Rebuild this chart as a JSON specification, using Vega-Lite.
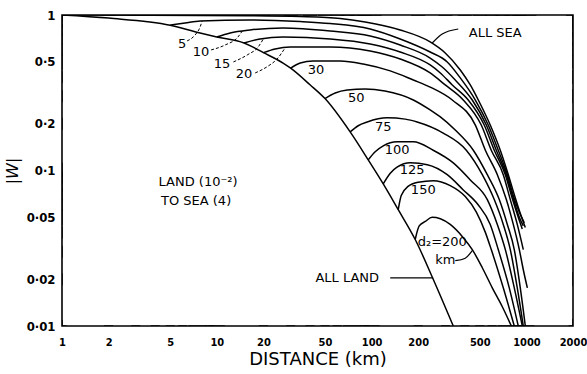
{
  "$schema": "https://vega.github.io/schema/vega-lite/v6.json",
  "width": 511,
  "height": 311,
  "autosize": {"type": "none"},
  "padding": {"left": 62, "top": 15, "right": 14, "bottom": 48},
  "background": "white",
  "config": {
    "view": {"stroke": "black", "strokeWidth": 1.6},
    "axis": {
      "domain": false, "grid": false, "ticks": false, "tickSize": 0,
      "labelColor": "black", "labelFont": "Liberation Sans Narrow, DejaVu Sans Condensed, Liberation Sans",
      "labelFontSize": 12, "labelFontWeight": "bold", "labelOverlap": false, "labelBound": false, "labelFlush": false,
      "titleColor": "black"
    },
    "text": {"color": "black", "font": "DejaVu Sans"}
  },
  "datasets": {
    "curves": [
      {"curve": "ALL SEA", "d": 1, "w": 1.0}, {"curve": "ALL SEA", "d": 3.71, "w": 0.996}, {"curve": "ALL SEA", "d": 16.4, "w": 0.99},
      {"curve": "ALL SEA", "d": 34.6, "w": 0.978}, {"curve": "ALL SEA", "d": 62.7, "w": 0.95}, {"curve": "ALL SEA", "d": 90.9, "w": 0.902},
      {"curve": "ALL SEA", "d": 153, "w": 0.801}, {"curve": "ALL SEA", "d": 239, "w": 0.671}, {"curve": "ALL SEA", "d": 299, "w": 0.57},
      {"curve": "ALL SEA", "d": 374, "w": 0.443}, {"curve": "ALL SEA", "d": 434, "w": 0.355}, {"curve": "ALL SEA", "d": 489, "w": 0.284},
      {"curve": "ALL SEA", "d": 584, "w": 0.196}, {"curve": "ALL SEA", "d": 678, "w": 0.135}, {"curve": "ALL SEA", "d": 764, "w": 0.094},
      {"curve": "ALL SEA", "d": 848, "w": 0.0666}, {"curve": "ALL SEA", "d": 913, "w": 0.053}, {"curve": "ALL SEA", "d": 984, "w": 0.043},

      {"curve": "5", "d": 5, "w": 0.86}, {"curve": "5", "d": 6.24, "w": 0.888}, {"curve": "5", "d": 7.8, "w": 0.915},
      {"curve": "5", "d": 16.4, "w": 0.929}, {"curve": "5", "d": 34.6, "w": 0.908}, {"curve": "5", "d": 54, "w": 0.882},
      {"curve": "5", "d": 97.9, "w": 0.813}, {"curve": "5", "d": 153, "w": 0.701}, {"curve": "5", "d": 239, "w": 0.578},
      {"curve": "5", "d": 308, "w": 0.499}, {"curve": "5", "d": 374, "w": 0.394}, {"curve": "5", "d": 468, "w": 0.284},
      {"curve": "5", "d": 567, "w": 0.196}, {"curve": "5", "d": 658, "w": 0.135}, {"curve": "5", "d": 753, "w": 0.094},
      {"curve": "5", "d": 835, "w": 0.066}, {"curve": "5", "d": 900, "w": 0.054}, {"curve": "5", "d": 969, "w": 0.046},

      {"curve": "10", "d": 10, "w": 0.722}, {"curve": "10", "d": 12.2, "w": 0.766}, {"curve": "10", "d": 16.4, "w": 0.801},
      {"curve": "10", "d": 26.8, "w": 0.825}, {"curve": "10", "d": 54, "w": 0.789}, {"curve": "10", "d": 97.9, "w": 0.733},
      {"curve": "10", "d": 153, "w": 0.641}, {"curve": "10", "d": 239, "w": 0.529}, {"curve": "10", "d": 286, "w": 0.463},
      {"curve": "10", "d": 347, "w": 0.382}, {"curve": "10", "d": 447, "w": 0.284}, {"curve": "10", "d": 551, "w": 0.196},
      {"curve": "10", "d": 639, "w": 0.135}, {"curve": "10", "d": 742, "w": 0.094}, {"curve": "10", "d": 823, "w": 0.066},
      {"curve": "10", "d": 900, "w": 0.05}, {"curve": "10", "d": 955, "w": 0.044},

      {"curve": "15", "d": 15, "w": 0.66}, {"curve": "15", "d": 19.05, "w": 0.701}, {"curve": "15", "d": 26.8, "w": 0.722},
      {"curve": "15", "d": 54, "w": 0.701}, {"curve": "15", "d": 97.9, "w": 0.651}, {"curve": "15", "d": 153, "w": 0.578},
      {"curve": "15", "d": 239, "w": 0.477}, {"curve": "15", "d": 278, "w": 0.424}, {"curve": "15", "d": 332, "w": 0.355},
      {"curve": "15", "d": 421, "w": 0.284}, {"curve": "15", "d": 534, "w": 0.196}, {"curve": "15", "d": 620, "w": 0.135},
      {"curve": "15", "d": 731, "w": 0.094}, {"curve": "15", "d": 811, "w": 0.066}, {"curve": "15", "d": 886, "w": 0.05},
      {"curve": "15", "d": 941, "w": 0.042},

      {"curve": "20", "d": 20, "w": 0.573}, {"curve": "20", "d": 23.8, "w": 0.605}, {"curve": "20", "d": 29.8, "w": 0.623},
      {"curve": "20", "d": 54, "w": 0.623}, {"curve": "20", "d": 97.9, "w": 0.587}, {"curve": "20", "d": 153, "w": 0.521},
      {"curve": "20", "d": 239, "w": 0.424}, {"curve": "20", "d": 299, "w": 0.355}, {"curve": "20", "d": 391, "w": 0.284},
      {"curve": "20", "d": 511, "w": 0.196}, {"curve": "20", "d": 593, "w": 0.135}, {"curve": "20", "d": 709, "w": 0.094},
      {"curve": "20", "d": 787, "w": 0.065}, {"curve": "20", "d": 873, "w": 0.045}, {"curve": "20", "d": 955, "w": 0.031},

      {"curve": "30", "d": 30, "w": 0.455}, {"curve": "30", "d": 34.6, "w": 0.491}, {"curve": "30", "d": 41.9, "w": 0.506},
      {"curve": "30", "d": 62.7, "w": 0.506}, {"curve": "30", "d": 88.3, "w": 0.484}, {"curve": "30", "d": 132, "w": 0.437},
      {"curve": "30", "d": 186, "w": 0.382}, {"curve": "30", "d": 239, "w": 0.344}, {"curve": "30", "d": 332, "w": 0.284},
      {"curve": "30", "d": 468, "w": 0.196}, {"curve": "30", "d": 543, "w": 0.135}, {"curve": "30", "d": 649, "w": 0.094},
      {"curve": "30", "d": 742, "w": 0.065}, {"curve": "30", "d": 823, "w": 0.045}, {"curve": "30", "d": 900, "w": 0.031},
      {"curve": "30", "d": 955, "w": 0.023}, {"curve": "30", "d": 1014, "w": 0.0176},

      {"curve": "50", "d": 50, "w": 0.29}, {"curve": "50", "d": 58.2, "w": 0.315}, {"curve": "50", "d": 69.6, "w": 0.329},
      {"curve": "50", "d": 90.9, "w": 0.334}, {"curve": "50", "d": 122, "w": 0.324}, {"curve": "50", "d": 186, "w": 0.284},
      {"curve": "50", "d": 239, "w": 0.245}, {"curve": "50", "d": 278, "w": 0.221}, {"curve": "50", "d": 347, "w": 0.182},
      {"curve": "50", "d": 454, "w": 0.135}, {"curve": "50", "d": 559, "w": 0.094}, {"curve": "50", "d": 668, "w": 0.065},
      {"curve": "50", "d": 753, "w": 0.045}, {"curve": "50", "d": 835, "w": 0.031}, {"curve": "50", "d": 913, "w": 0.0176},
      {"curve": "50", "d": 984, "w": 0.01},

      {"curve": "75", "d": 72.7, "w": 0.177}, {"curve": "75", "d": 81.9, "w": 0.194}, {"curve": "75", "d": 93.7, "w": 0.205},
      {"curve": "75", "d": 126, "w": 0.218}, {"curve": "75", "d": 165, "w": 0.214}, {"curve": "75", "d": 197, "w": 0.205},
      {"curve": "75", "d": 290, "w": 0.174}, {"curve": "75", "d": 409, "w": 0.135}, {"curve": "75", "d": 519, "w": 0.094},
      {"curve": "75", "d": 620, "w": 0.065}, {"curve": "75", "d": 709, "w": 0.045}, {"curve": "75", "d": 787, "w": 0.031},
      {"curve": "75", "d": 873, "w": 0.0176}, {"curve": "75", "d": 955, "w": 0.01},

      {"curve": "100", "d": 95.1, "w": 0.117}, {"curve": "100", "d": 105.5, "w": 0.132}, {"curve": "100", "d": 118.9, "w": 0.144},
      {"curve": "100", "d": 146, "w": 0.153}, {"curve": "100", "d": 186, "w": 0.153}, {"curve": "100", "d": 250, "w": 0.135},
      {"curve": "100", "d": 337, "w": 0.112}, {"curve": "100", "d": 434, "w": 0.087}, {"curve": "100", "d": 559, "w": 0.065},
      {"curve": "100", "d": 649, "w": 0.045}, {"curve": "100", "d": 731, "w": 0.031}, {"curve": "100", "d": 835, "w": 0.0176},
      {"curve": "100", "d": 941, "w": 0.01},

      {"curve": "125", "d": 118.9, "w": 0.082}, {"curve": "125", "d": 132, "w": 0.096}, {"curve": "125", "d": 146, "w": 0.105},
      {"curve": "125", "d": 178, "w": 0.112}, {"curve": "125", "d": 229, "w": 0.109}, {"curve": "125", "d": 308, "w": 0.094},
      {"curve": "125", "d": 391, "w": 0.075}, {"curve": "125", "d": 489, "w": 0.06}, {"curve": "125", "d": 584, "w": 0.045},
      {"curve": "125", "d": 658, "w": 0.031}, {"curve": "125", "d": 775, "w": 0.0176}, {"curve": "125", "d": 886, "w": 0.01},

      {"curve": "150", "d": 148.6, "w": 0.056}, {"curve": "150", "d": 155.4, "w": 0.069}, {"curve": "150", "d": 172, "w": 0.079},
      {"curve": "150", "d": 200, "w": 0.084}, {"curve": "150", "d": 250, "w": 0.086}, {"curve": "150", "d": 322, "w": 0.08},
      {"curve": "150", "d": 403, "w": 0.068}, {"curve": "150", "d": 475, "w": 0.054}, {"curve": "150", "d": 543, "w": 0.04},
      {"curve": "150", "d": 593, "w": 0.031}, {"curve": "150", "d": 709, "w": 0.0176}, {"curve": "150", "d": 835, "w": 0.01},

      {"curve": "200", "d": 191.3, "w": 0.036}, {"curve": "200", "d": 203, "w": 0.044}, {"curve": "200", "d": 222, "w": 0.047},
      {"curve": "200", "d": 246, "w": 0.05}, {"curve": "200", "d": 278, "w": 0.049}, {"curve": "200", "d": 322, "w": 0.045},
      {"curve": "200", "d": 391, "w": 0.037}, {"curve": "200", "d": 447, "w": 0.031}, {"curve": "200", "d": 519, "w": 0.0237},
      {"curve": "200", "d": 602, "w": 0.0176}, {"curve": "200", "d": 699, "w": 0.0133}, {"curve": "200", "d": 799, "w": 0.01},

      {"curve": "ALL LAND", "d": 1, "w": 1.0}, {"curve": "ALL LAND", "d": 2, "w": 0.955}, {"curve": "ALL LAND", "d": 5, "w": 0.86},
      {"curve": "ALL LAND", "d": 7.8, "w": 0.766}, {"curve": "ALL LAND", "d": 10, "w": 0.722}, {"curve": "ALL LAND", "d": 15, "w": 0.66},
      {"curve": "ALL LAND", "d": 20, "w": 0.573}, {"curve": "ALL LAND", "d": 26.8, "w": 0.491}, {"curve": "ALL LAND", "d": 30, "w": 0.455},
      {"curve": "ALL LAND", "d": 40, "w": 0.356}, {"curve": "ALL LAND", "d": 50, "w": 0.29}, {"curve": "ALL LAND", "d": 72.7, "w": 0.177},
      {"curve": "ALL LAND", "d": 95.1, "w": 0.117}, {"curve": "ALL LAND", "d": 118.9, "w": 0.082}, {"curve": "ALL LAND", "d": 148.6, "w": 0.056},
      {"curve": "ALL LAND", "d": 191.3, "w": 0.036}, {"curve": "ALL LAND", "d": 250, "w": 0.02}, {"curve": "ALL LAND", "d": 337, "w": 0.01}
    ],
    "leaders": [
      {"lead": "5", "d": 6.43, "w": 0.681}, {"lead": "5", "d": 7.24, "w": 0.744}, {"lead": "5", "d": 7.8, "w": 0.837}, {"lead": "5", "d": 8.04, "w": 0.915},
      {"lead": "10", "d": 9.19, "w": 0.596}, {"lead": "10", "d": 11.3, "w": 0.641}, {"lead": "10", "d": 13.7, "w": 0.722}, {"lead": "10", "d": 14.6, "w": 0.789},
      {"lead": "15", "d": 12.8, "w": 0.499}, {"lead": "15", "d": 15.7, "w": 0.553}, {"lead": "15", "d": 18.5, "w": 0.623}, {"lead": "15", "d": 19.9, "w": 0.697},
      {"lead": "20", "d": 17.7, "w": 0.424}, {"lead": "20", "d": 21.5, "w": 0.47}, {"lead": "20", "d": 24.5, "w": 0.521}, {"lead": "20", "d": 27.6, "w": 0.614},
      {"lead": "ALL SEA", "d": 362.9, "w": 0.813}, {"lead": "ALL SEA", "d": 286, "w": 0.755}, {"lead": "ALL SEA", "d": 246.4, "w": 0.661},
      {"lead": "ALL LAND", "d": 131.9, "w": 0.0204}, {"lead": "ALL LAND", "d": 250, "w": 0.0204},
      {"lead": "km", "d": 347.1, "w": 0.0263}, {"lead": "km", "d": 402.7, "w": 0.0273}, {"lead": "km", "d": 447, "w": 0.0305}
    ],
    "labels": [
      {"text": "5", "d": 5.97, "w": 0.651},
      {"text": "10", "d": 7.91, "w": 0.578},
      {"text": "15", "d": 10.8, "w": 0.484},
      {"text": "20", "d": 15.0, "w": 0.417},
      {"text": "30", "d": 43.8, "w": 0.443},
      {"text": "50", "d": 79.5, "w": 0.292},
      {"text": "75", "d": 118.9, "w": 0.19},
      {"text": "100", "d": 146.4, "w": 0.1355},
      {"text": "125", "d": 183, "w": 0.1007},
      {"text": "150", "d": 215.7, "w": 0.0749},
      {"text": "d₂=200", "d": 286, "w": 0.0347},
      {"text": "km", "d": 299, "w": 0.0266},
      {"text": "ALL  SEA", "d": 629.5, "w": 0.766},
      {"text": "ALL  LAND", "d": 69.6, "w": 0.0204},
      {"text": "LAND  (10⁻²)", "d": 7.57, "w": 0.0844},
      {"text": "TO SEA  (4)", "d": 7.35, "w": 0.0637}
    ],
    "xticks": [
      {"v": 1}, {"v": 2}, {"v": 3}, {"v": 4}, {"v": 5}, {"v": 6}, {"v": 7}, {"v": 8}, {"v": 9},
      {"v": 10}, {"v": 20}, {"v": 30}, {"v": 40}, {"v": 50}, {"v": 60}, {"v": 70}, {"v": 80}, {"v": 90},
      {"v": 100}, {"v": 200}, {"v": 300}, {"v": 400}, {"v": 500}, {"v": 600}, {"v": 700}, {"v": 800}, {"v": 900},
      {"v": 1000}, {"v": 2000}
    ],
    "yticks": [
      {"v": 0.01}, {"v": 0.02}, {"v": 0.03}, {"v": 0.04}, {"v": 0.05}, {"v": 0.06}, {"v": 0.07}, {"v": 0.08}, {"v": 0.09},
      {"v": 0.1}, {"v": 0.2}, {"v": 0.3}, {"v": 0.4}, {"v": 0.5}, {"v": 0.6}, {"v": 0.7}, {"v": 0.8}, {"v": 0.9}, {"v": 1}
    ]
  },
  "layer": [
    {
      "data": {"name": "curves"},
      "mark": {"type": "line", "interpolate": "monotone", "strokeWidth": 1.5, "color": "black", "clip": true},
      "encoding": {
        "x": {
          "field": "d", "type": "quantitative",
          "scale": {"type": "log", "domain": [1, 2000], "nice": false},
          "axis": {
            "orient": "bottom",
            "values": [1, 2, 5, 10, 20, 50, 100, 200, 500, 1000, 2000],
            "labelExpr": "toString(datum.value)",
            "labelFontSize": 11,
            "labelPadding": 10,
            "title": "DISTANCE  (km)", "titleFont": "DejaVu Sans", "titleFontSize": 18, "titleFontWeight": "normal", "titlePadding": 3
          }
        },
        "y": {
          "field": "w", "type": "quantitative",
          "scale": {"type": "log", "domain": [0.01, 1], "nice": false},
          "axis": {
            "orient": "left",
            "values": [0.01, 0.02, 0.05, 0.1, 0.2, 0.5, 1],
            "labelExpr": "datum.value == 1 ? '1' : replace(toString(datum.value), '.', '·')",
            "labelFontSize": 13,
            "labelPadding": 7,
            "title": "|W|", "titleFont": "DejaVu Sans", "titleFontSize": 16, "titleFontWeight": "normal", "titleFontStyle": "italic", "titlePadding": 6
          }
        },
        "detail": {"field": "curve", "type": "nominal"}
      }
    },
    {
      "data": {"name": "leaders"},
      "transform": [{"filter": {"field": "lead", "oneOf": ["5", "10", "15", "20"]}}],
      "mark": {"type": "line", "interpolate": "monotone", "strokeWidth": 1, "color": "black", "strokeDash": [3, 2]},
      "encoding": {
        "x": {"field": "d", "type": "quantitative", "scale": {"type": "log", "domain": [1, 2000], "nice": false}, "axis": null},
        "y": {"field": "w", "type": "quantitative", "scale": {"type": "log", "domain": [0.01, 1], "nice": false}, "axis": null},
        "detail": {"field": "lead", "type": "nominal"}
      }
    },
    {
      "data": {"name": "leaders"},
      "transform": [{"filter": {"field": "lead", "oneOf": ["ALL SEA", "ALL LAND", "km"]}}],
      "mark": {"type": "line", "interpolate": "monotone", "strokeWidth": 1.2, "color": "black"},
      "encoding": {
        "x": {"field": "d", "type": "quantitative", "scale": {"type": "log", "domain": [1, 2000], "nice": false}, "axis": null},
        "y": {"field": "w", "type": "quantitative", "scale": {"type": "log", "domain": [0.01, 1], "nice": false}, "axis": null},
        "detail": {"field": "lead", "type": "nominal"}
      }
    },
    {
      "data": {"name": "labels"},
      "mark": {"type": "text", "fontSize": 13, "font": "DejaVu Sans", "align": "center", "baseline": "middle", "color": "black"},
      "encoding": {
        "x": {"field": "d", "type": "quantitative", "scale": {"type": "log", "domain": [1, 2000], "nice": false}, "axis": null},
        "y": {"field": "w", "type": "quantitative", "scale": {"type": "log", "domain": [0.01, 1], "nice": false}, "axis": null},
        "text": {"field": "text", "type": "nominal"}
      }
    },
    {
      "data": {"name": "xticks"},
      "mark": {"type": "tick", "orient": "horizontal", "thickness": 1.4, "color": "black", "opacity": 1, "clip": true},
      "encoding": {
        "x": {"field": "v", "type": "quantitative", "scale": {"type": "log", "domain": [1, 2000], "nice": false}, "axis": null},
        "y": {"datum": 0.01, "type": "quantitative", "scale": {"type": "log", "domain": [0.01, 1], "nice": false}, "axis": null},
        "size": {"condition": {"test": "indexof([10, 100, 1000], datum.v) >= 0", "value": 16}, "value": 9}
      }
    },
    {
      "data": {"name": "xticks"},
      "mark": {"type": "tick", "orient": "horizontal", "thickness": 1.4, "color": "black", "opacity": 1, "clip": true},
      "encoding": {
        "x": {"field": "v", "type": "quantitative", "scale": {"type": "log", "domain": [1, 2000], "nice": false}, "axis": null},
        "y": {"datum": 1, "type": "quantitative", "scale": {"type": "log", "domain": [0.01, 1], "nice": false}, "axis": null},
        "size": {"condition": {"test": "indexof([10, 100, 1000], datum.v) >= 0", "value": 20}, "value": 14}
      }
    },
    {
      "data": {"name": "yticks"},
      "mark": {"type": "tick", "orient": "vertical", "thickness": 1.4, "color": "black", "opacity": 1, "clip": true},
      "encoding": {
        "y": {"field": "v", "type": "quantitative", "scale": {"type": "log", "domain": [0.01, 1], "nice": false}, "axis": null},
        "x": {"datum": 1, "type": "quantitative", "scale": {"type": "log", "domain": [1, 2000], "nice": false}, "axis": null},
        "size": {"condition": {"test": "indexof([0.1, 0.5, 0.05], datum.v) >= 0", "value": 16}, "value": 12}
      }
    },
    {
      "data": {"name": "yticks"},
      "mark": {"type": "tick", "orient": "vertical", "thickness": 1.4, "color": "black", "opacity": 1, "clip": true},
      "encoding": {
        "y": {"field": "v", "type": "quantitative", "scale": {"type": "log", "domain": [0.01, 1], "nice": false}, "axis": null},
        "x": {"datum": 2000, "type": "quantitative", "scale": {"type": "log", "domain": [1, 2000], "nice": false}, "axis": null},
        "size": {"condition": {"test": "indexof([0.1], datum.v) >= 0", "value": 20}, "value": 14}
      }
    }
  ],
  "resolve": {"axis": {"x": "independent", "y": "independent"}}
}
